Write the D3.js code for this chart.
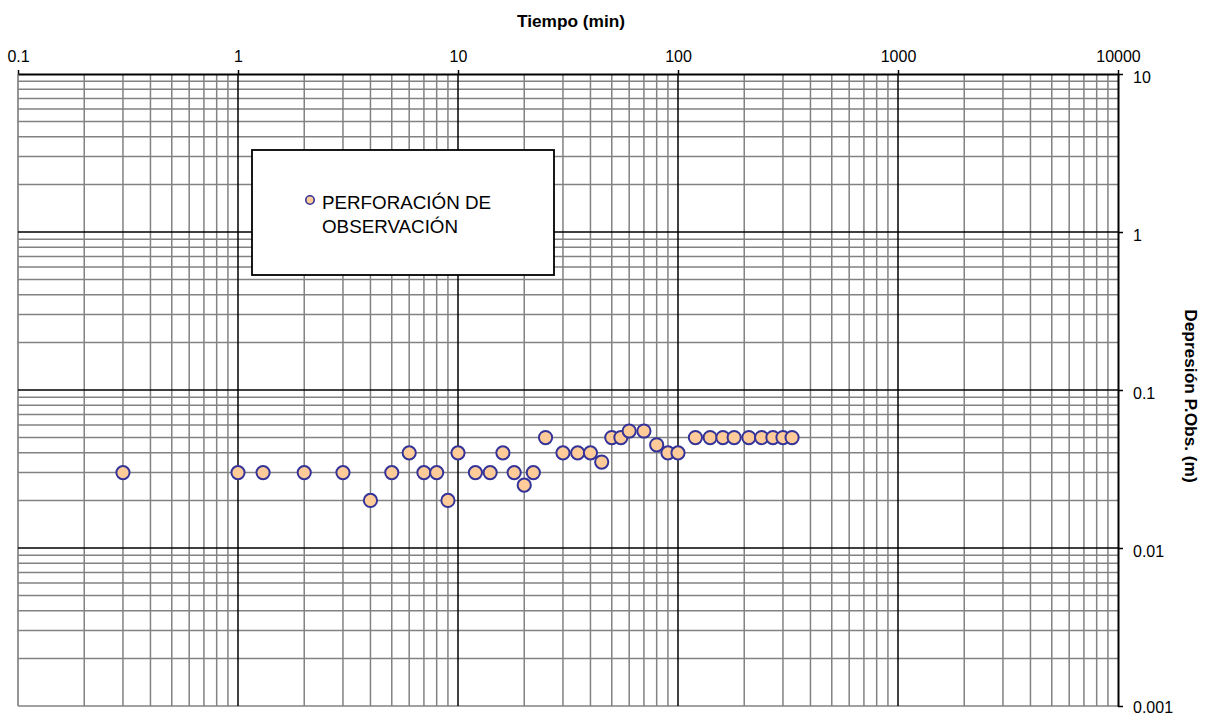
<!DOCTYPE html>
<html>
<head>
<meta charset="utf-8">
<script src="https://cdn.jsdelivr.net/npm/d3@7"></script>
<style>
  html, body { margin: 0; padding: 0; background: #ffffff; }
  svg { display: block; font-family: "Liberation Sans", Arial, sans-serif; }
</style>
</head>
<body>
<svg id="chart" width="1206" height="715"></svg>
<script>
// Observation well: elapsed time (min) and drawdown (m)
const tiempo = [0.3, 1, 1.3, 2, 3, 4, 5, 6, 7, 8, 9, 10, 12, 14, 16, 18, 20, 22, 25,
  30, 35, 40, 45, 50, 55, 60, 70, 80, 90, 100, 120, 140, 160, 180, 210, 240, 270, 300, 330];
const depresion = [0.03, 0.03, 0.03, 0.03, 0.03, 0.02, 0.03, 0.04, 0.03, 0.03, 0.02, 0.04, 0.03, 0.03, 0.04, 0.03, 0.025, 0.03, 0.05,
  0.04, 0.04, 0.04, 0.035, 0.05, 0.05, 0.055, 0.055, 0.045, 0.04, 0.04, 0.05, 0.05, 0.05, 0.05, 0.05, 0.05, 0.05, 0.05, 0.05];

const xTickValues = [0.1, 1, 10, 100, 1000, 10000];
const xTickLabels = ["0.1", "1", "10", "100", "1000", "10000"];
const yTickValues = [0.001, 0.01, 0.1, 1, 10];
const yTickLabels = ["0.001", "0.01", "0.1", "1", "10"];

const xTitle = "Tiempo (min)";
const yTitle = "Depresión P.Obs. (m)";
const legendLines = ["PERFORACIÓN DE", "OBSERVACIÓN"];

const svg = d3.select("#chart");
const plotL = 18, plotR = 1118, plotT = 74, plotB = 706;

const x = d3.scaleLog().domain([0.1, 10000]).range([plotL, plotR]);
const y = d3.scaleLog().domain([0.001, 10]).range([plotB, plotT]);

const isDecade = v => Math.abs(Math.log10(v) - Math.round(Math.log10(v))) < 1e-9;

// Minor grid (gray), then decade grid (black)
const grid = svg.append("g");
const xAll = x.ticks();
const yAll = y.ticks();

grid.selectAll("line.vminor").data(xAll.filter(v => !isDecade(v)))
  .join("line").attr("class", "vminor")
  .attr("x1", d => x(d)).attr("x2", d => x(d))
  .attr("y1", plotT).attr("y2", plotB)
  .attr("stroke", "#828282").attr("stroke-width", 1.5);

grid.selectAll("line.hminor").data(yAll.filter(v => !isDecade(v)))
  .join("line").attr("class", "hminor")
  .attr("x1", plotL).attr("x2", plotR)
  .attr("y1", d => y(d)).attr("y2", d => y(d))
  .attr("stroke", "#828282").attr("stroke-width", 1.5);

// Left and bottom frame edges in gray
grid.append("line").attr("x1", plotL).attr("x2", plotL).attr("y1", plotT).attr("y2", plotB)
  .attr("stroke", "#828282").attr("stroke-width", 1.7);
grid.append("line").attr("x1", plotL).attr("x2", plotR).attr("y1", plotB).attr("y2", plotB)
  .attr("stroke", "#828282").attr("stroke-width", 1.7);

grid.selectAll("line.vmajor").data(xTickValues.filter(v => v > 0.1 && v < 10000))
  .join("line").attr("class", "vmajor")
  .attr("x1", d => x(d)).attr("x2", d => x(d))
  .attr("y1", plotT).attr("y2", plotB)
  .attr("stroke", "#000").attr("stroke-width", 1.5);

grid.selectAll("line.hmajor").data(yTickValues.filter(v => v > 0.001 && v < 10))
  .join("line").attr("class", "hmajor")
  .attr("x1", plotL).attr("x2", plotR)
  .attr("y1", d => y(d)).attr("y2", d => y(d))
  .attr("stroke", "#000").attr("stroke-width", 1.5);

// Top axis
const xAxis = svg.append("g")
  .attr("transform", `translate(0,${plotT})`)
  .call(d3.axisTop(x).tickValues(xTickValues)
    .tickFormat((d, i) => xTickLabels[i]).tickSize(4).tickSizeOuter(0));
xAxis.select(".domain").attr("stroke", "#000").attr("stroke-width", 2);
xAxis.selectAll(".tick line").attr("stroke", "#000").attr("stroke-width", 1.5);
xAxis.selectAll(".tick text")
  .attr("font-size", 16).attr("fill", "#000")
  .attr("font-family", "'Liberation Sans', Arial, sans-serif")
  .attr("y", -10).attr("dy", "-0.15em");

// Right axis
const yAxis = svg.append("g")
  .attr("transform", `translate(${plotR},0)`)
  .call(d3.axisRight(y).tickValues(yTickValues)
    .tickFormat((d, i) => yTickLabels[i]).tickSize(5).tickSizeOuter(0));
yAxis.select(".domain").attr("stroke", "#000").attr("stroke-width", 2);
yAxis.selectAll(".tick line").attr("stroke", "#000").attr("stroke-width", 1.5);
yAxis.selectAll(".tick text")
  .attr("font-size", 16).attr("fill", "#000")
  .attr("font-family", "'Liberation Sans', Arial, sans-serif")
  .attr("x", 15).attr("dy", d => d === 0.001 ? "0.4em" : "0.55em");

// Axis titles
svg.append("text")
  .attr("x", 571).attr("y", 27)
  .attr("text-anchor", "middle")
  .attr("font-size", 17.3).attr("font-weight", "bold")
  .text(xTitle);

svg.append("text")
  .attr("transform", "translate(1185,396) rotate(90)")
  .attr("text-anchor", "middle")
  .attr("font-size", 17.3).attr("font-weight", "bold")
  .text(yTitle);

// Data points
svg.append("g").selectAll("circle")
  .data(tiempo.map((t, i) => [t, depresion[i]]))
  .join("circle")
  .attr("cx", d => x(d[0])).attr("cy", d => y(d[1]))
  .attr("r", 6.6)
  .attr("fill", "#FFCC99").attr("stroke", "#333399").attr("stroke-width", 2);

// Legend
const lg = svg.append("g");
lg.append("rect")
  .attr("x", 252).attr("y", 150).attr("width", 302).attr("height", 125)
  .attr("fill", "#fff").attr("stroke", "#000").attr("stroke-width", 1.8);
lg.append("circle")
  .attr("cx", 310).attr("cy", 200).attr("r", 4.2)
  .attr("fill", "#FFCC99").attr("stroke", "#333399").attr("stroke-width", 1.6);
lg.selectAll("text.lbl").data(legendLines).join("text").attr("class", "lbl")
  .attr("x", 322).attr("y", (d, i) => 209 + i * 23.5)
  .attr("font-size", 18.8).attr("fill", "#000")
  .text(d => d);
</script>
</body>
</html>
